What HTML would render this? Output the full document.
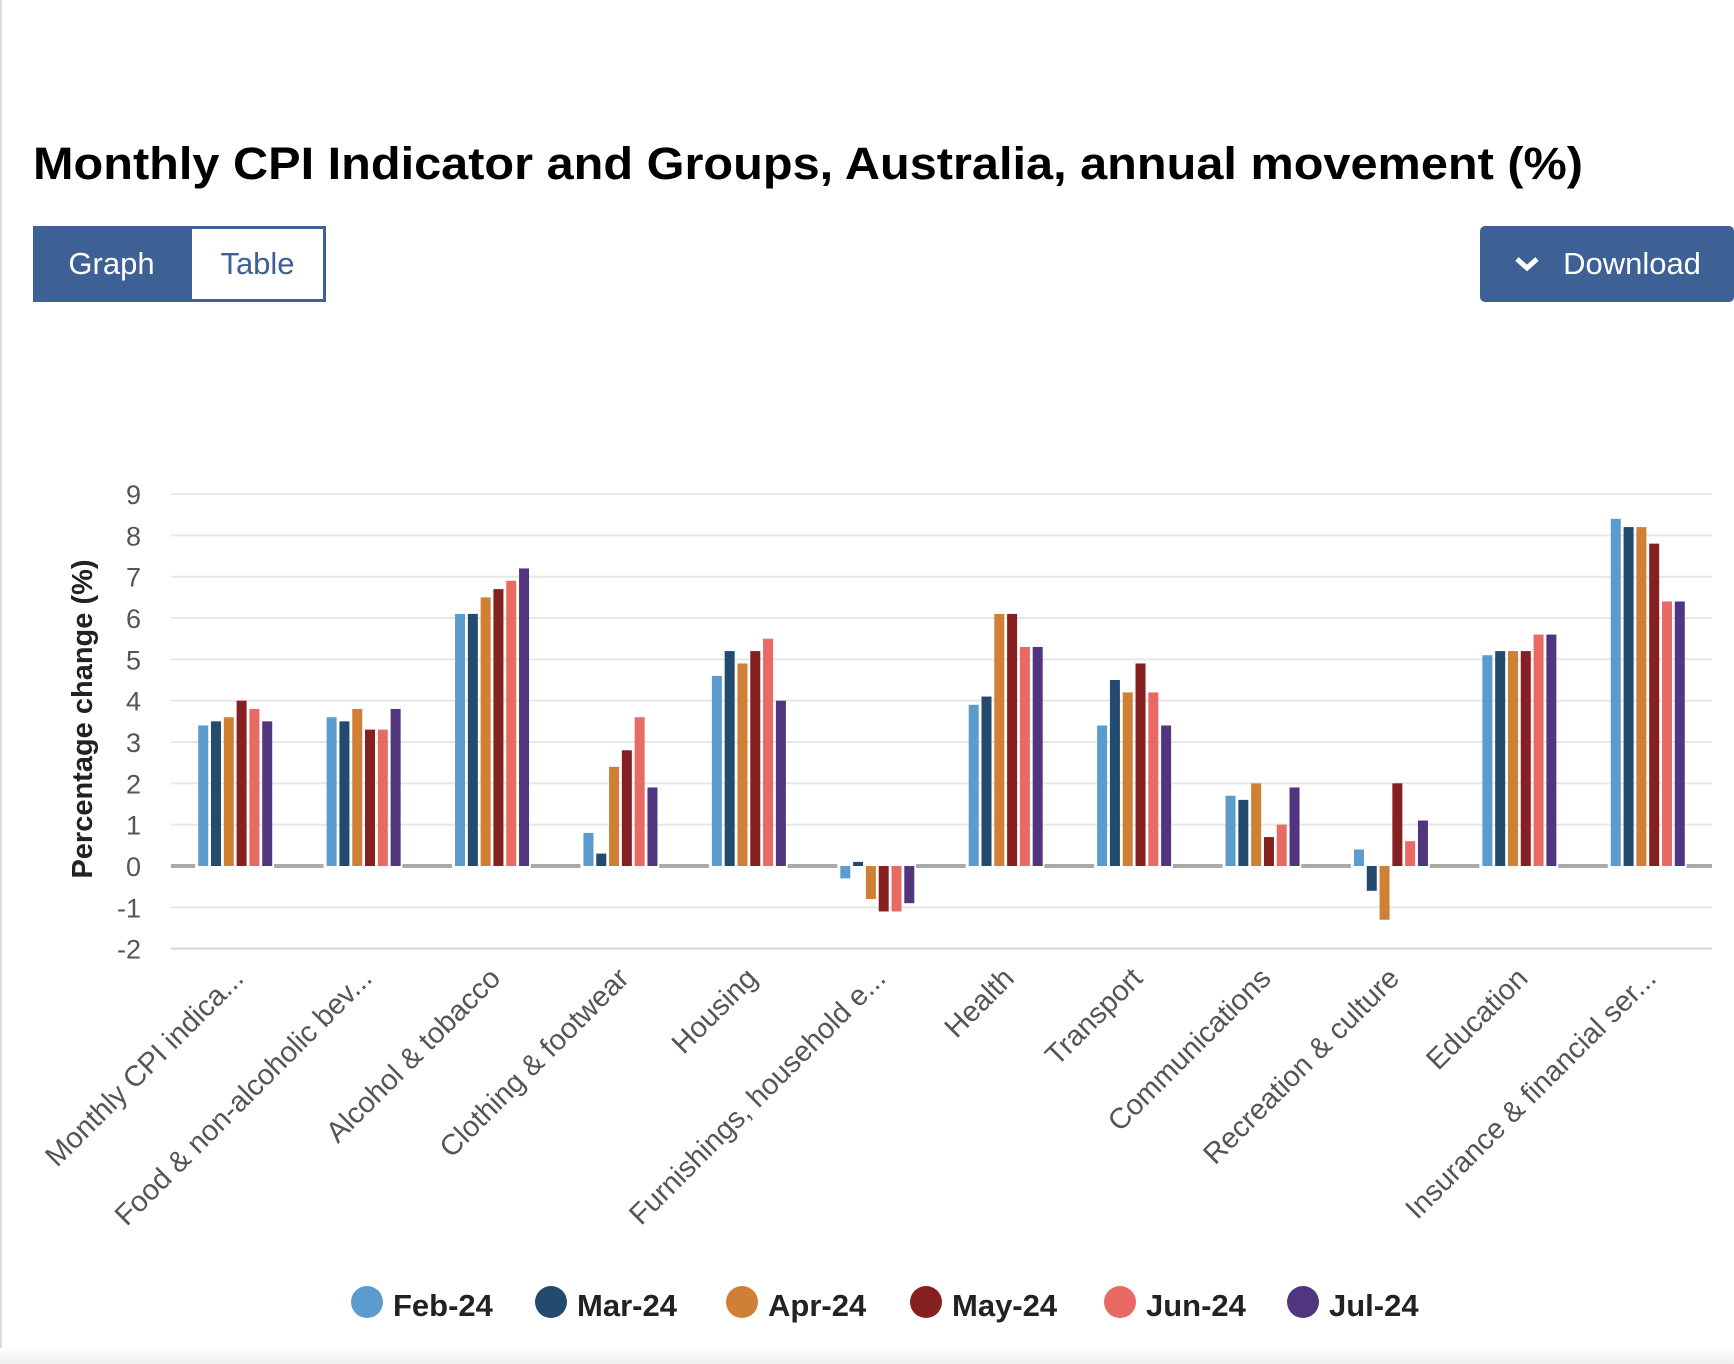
<!DOCTYPE html>
<html><head><meta charset="utf-8"><style>
body{margin:0;width:1734px;height:1364px;overflow:hidden;background:#fff;font-family:"Liberation Sans",sans-serif;position:relative}
.btn{position:absolute;font-size:31px;box-sizing:border-box;display:flex;align-items:center;justify-content:center}
</style></head><body>
<div style="position:absolute;left:0;top:0;width:2px;height:1364px;background:#ddd"></div>
<div style="position:absolute;left:0;top:1348px;width:1734px;height:16px;background:linear-gradient(#fff,#eee)"></div>
<svg style="position:absolute;left:0;top:0" width="1734" height="200"><text x="33" y="179" font-size="45" font-weight="bold" fill="#000" textLength="1550" lengthAdjust="spacingAndGlyphs" font-family="Liberation Sans, sans-serif">Monthly CPI Indicator and Groups, Australia, annual movement (%)</text></svg>
<div class="btn" style="left:33px;top:226px;width:157px;height:76px;background:#3d6194;color:#fff">Graph</div>
<div class="btn" style="left:189px;top:226px;width:137px;height:76px;border:3px solid #3d6194;color:#3d6194;background:#fff">Table</div>
<div class="btn" style="left:1480px;top:226px;width:254px;height:76px;background:#3d6194;color:#fff;border-radius:5px"><svg width="28" height="18" style="margin-right:22px"><polyline points="4,4 14,13 24,4" fill="none" stroke="#fff" stroke-width="5"/></svg>Download</div>
<svg id="chart" style="position:absolute;left:0;top:0" width="1734" height="1364"></svg>
<script>
const categories=["Monthly CPI indica...","Food & non-alcoholic bev...","Alcohol & tobacco","Clothing & footwear","Housing","Furnishings, household e...","Health","Transport","Communications","Recreation & culture","Education","Insurance & financial ser..."];
const seriesNames=["Feb-24","Mar-24","Apr-24","May-24","Jun-24","Jul-24"];
const feb=[3.4,3.6,6.1,0.8,4.6,-0.3,3.9,3.4,1.7,0.4,5.1,8.4];
const mar=[3.5,3.5,6.1,0.3,5.2,0.1,4.1,4.5,1.6,-0.6,5.2,8.2];
const apr=[3.6,3.8,6.5,2.4,4.9,-0.8,6.1,4.2,2.0,-1.3,5.2,8.2];
const may=[4.0,3.3,6.7,2.8,5.2,-1.1,6.1,4.9,0.7,2.0,5.2,7.8];
const jun=[3.8,3.3,6.9,3.6,5.5,-1.1,5.3,4.2,1.0,0.6,5.6,6.4];
const jul=[3.5,3.8,7.2,1.9,4.0,-0.9,5.3,3.4,1.9,1.1,5.6,6.4];
const yTicks=[-2,-1,0,1,2,3,4,5,6,7,8,9];
const colors=["#5b9bcd","#234a6f","#d08034","#861f1f","#e96a63","#52357f"];
const series=[feb,mar,apr,may,jun,jul];
const svg=document.getElementById('chart');const NS="http://www.w3.org/2000/svg";
const L=171,R=1712,Y0=866,UNIT=41.33;
const y=v=>Y0-v*UNIT;const cw=(R-L)/categories.length;const cx=i=>L+cw*(i+0.5);
function mk(t,a,p){const e=document.createElementNS(NS,t);for(const k in a)e.setAttribute(k,a[k]);(p||svg).appendChild(e);return e;}
yTicks.forEach(t=>{
 const g=mk('line',{x1:L,x2:R,y1:y(t),y2:y(t),stroke:t===-2?'#c9d6e8':'#e6e6e6','stroke-width':2});
 
 
 const tx=mk('text',{x:141,y:y(t)+10,'text-anchor':'end','font-size':27,fill:'#555'});tx.textContent=t;
 
 
});
const z=mk('line',{x1:L,x2:R,y1:Y0,y2:Y0,stroke:'#aaa','stroke-width':4});


const yt=mk('text',{x:0,y:0,transform:'translate(92,719) rotate(-90)','text-anchor':'middle','font-size':29,'font-weight':'bold',fill:'#222'});yt.textContent='Percentage change (%)';


const step=12.8,bw=10;
categories.forEach((c,i)=>{
 const gx=cx(i)-step*3+ (step-bw)/2;
 mk('rect',{x:gx-3,y:Y0-3,width:step*6+2,height:6,fill:'#fff'});
 series.forEach((s,j)=>{
  const v=s[i];const b=mk('rect',{x:gx+j*step,y:Math.min(y(v),Y0),width:bw,height:Math.abs(y(v)-Y0),fill:colors[j]});
  
  
 });
 const lx=cx(i)+10,ly=980;
 const t=mk('text',{x:lx,y:ly,transform:`rotate(-45 ${lx} ${ly})`,'text-anchor':'end','font-size':29,fill:'#555'});t.textContent=c;
 
 
});
const lxs=[367,551,742,926,1120,1303];
seriesNames.forEach((n,j)=>{
 const g=mk('g',{});
 
 
 mk('circle',{cx:lxs[j],cy:1302,r:16,fill:colors[j]},g);
 const t=mk('text',{x:lxs[j]+26,y:1316,'font-size':31,'font-weight':'bold',fill:'#222'},g);t.textContent=n;
});
</script>
</body></html>
